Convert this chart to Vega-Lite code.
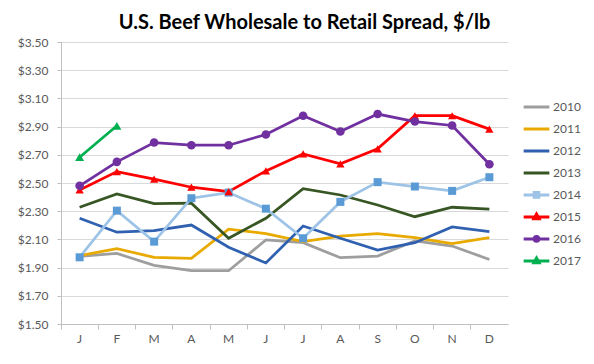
{
  "$schema": "https://vega.github.io/schema/vega-lite/v6.json",
  "width": 447,
  "height": 282,
  "autosize": {"type": "none"},
  "padding": {"left": 61, "top": 42, "right": 86, "bottom": 40},
  "background": "white",
  "title": {"text": "U.S. Beef Wholesale to Retail Spread, $/lb", "font": "Lato", "fontSize": 20, "fontWeight": "bold", "color": "#000000", "anchor": "middle", "dx": 20, "offset": 3},
  "data": {"values": [
    {"year": "2010", "m": 1, "v": 1.98}, {"year": "2010", "m": 2, "v": 2.0}, {"year": "2010", "m": 3, "v": 1.916}, {"year": "2010", "m": 4, "v": 1.878}, {"year": "2010", "m": 5, "v": 1.878}, {"year": "2010", "m": 6, "v": 2.096}, {"year": "2010", "m": 7, "v": 2.077}, {"year": "2010", "m": 8, "v": 1.97}, {"year": "2010", "m": 9, "v": 1.982}, {"year": "2010", "m": 10, "v": 2.089}, {"year": "2010", "m": 11, "v": 2.053}, {"year": "2010", "m": 12, "v": 1.958},
    {"year": "2011", "m": 1, "v": 1.985}, {"year": "2011", "m": 2, "v": 2.034}, {"year": "2011", "m": 3, "v": 1.973}, {"year": "2011", "m": 4, "v": 1.966}, {"year": "2011", "m": 5, "v": 2.172}, {"year": "2011", "m": 6, "v": 2.141}, {"year": "2011", "m": 7, "v": 2.084}, {"year": "2011", "m": 8, "v": 2.124}, {"year": "2011", "m": 9, "v": 2.141}, {"year": "2011", "m": 10, "v": 2.112}, {"year": "2011", "m": 11, "v": 2.07}, {"year": "2011", "m": 12, "v": 2.112},
    {"year": "2012", "m": 1, "v": 2.25}, {"year": "2012", "m": 2, "v": 2.151}, {"year": "2012", "m": 3, "v": 2.162}, {"year": "2012", "m": 4, "v": 2.202}, {"year": "2012", "m": 5, "v": 2.044}, {"year": "2012", "m": 6, "v": 1.933}, {"year": "2012", "m": 7, "v": 2.195}, {"year": "2012", "m": 8, "v": 2.108}, {"year": "2012", "m": 9, "v": 2.025}, {"year": "2012", "m": 10, "v": 2.077}, {"year": "2012", "m": 11, "v": 2.188}, {"year": "2012", "m": 12, "v": 2.155},
    {"year": "2013", "m": 1, "v": 2.328}, {"year": "2013", "m": 2, "v": 2.423}, {"year": "2013", "m": 3, "v": 2.354}, {"year": "2013", "m": 4, "v": 2.357}, {"year": "2013", "m": 5, "v": 2.108}, {"year": "2013", "m": 6, "v": 2.25}, {"year": "2013", "m": 7, "v": 2.46}, {"year": "2013", "m": 8, "v": 2.415}, {"year": "2013", "m": 9, "v": 2.344}, {"year": "2013", "m": 10, "v": 2.261}, {"year": "2013", "m": 11, "v": 2.328}, {"year": "2013", "m": 12, "v": 2.314},
    {"year": "2014", "m": 1, "v": 1.973}, {"year": "2014", "m": 2, "v": 2.304}, {"year": "2014", "m": 3, "v": 2.084}, {"year": "2014", "m": 4, "v": 2.392}, {"year": "2014", "m": 5, "v": 2.432}, {"year": "2014", "m": 6, "v": 2.318}, {"year": "2014", "m": 7, "v": 2.108}, {"year": "2014", "m": 8, "v": 2.366}, {"year": "2014", "m": 9, "v": 2.506}, {"year": "2014", "m": 10, "v": 2.475}, {"year": "2014", "m": 11, "v": 2.444}, {"year": "2014", "m": 12, "v": 2.541},
    {"year": "2015", "m": 1, "v": 2.451}, {"year": "2015", "m": 2, "v": 2.581}, {"year": "2015", "m": 3, "v": 2.527}, {"year": "2015", "m": 4, "v": 2.47}, {"year": "2015", "m": 5, "v": 2.439}, {"year": "2015", "m": 6, "v": 2.586}, {"year": "2015", "m": 7, "v": 2.706}, {"year": "2015", "m": 8, "v": 2.636}, {"year": "2015", "m": 9, "v": 2.742}, {"year": "2015", "m": 10, "v": 2.977}, {"year": "2015", "m": 11, "v": 2.977}, {"year": "2015", "m": 12, "v": 2.882},
    {"year": "2016", "m": 1, "v": 2.48}, {"year": "2016", "m": 2, "v": 2.65}, {"year": "2016", "m": 3, "v": 2.787}, {"year": "2016", "m": 4, "v": 2.768}, {"year": "2016", "m": 5, "v": 2.768}, {"year": "2016", "m": 6, "v": 2.844}, {"year": "2016", "m": 7, "v": 2.977}, {"year": "2016", "m": 8, "v": 2.865}, {"year": "2016", "m": 9, "v": 2.989}, {"year": "2016", "m": 10, "v": 2.936}, {"year": "2016", "m": 11, "v": 2.908}, {"year": "2016", "m": 12, "v": 2.633},
    {"year": "2017", "m": 1, "v": 2.683}, {"year": "2017", "m": 2, "v": 2.906}
  ]},
  "encoding": {
    "x": {"field": "m", "type": "ordinal", "title": null,
      "scale": {"type": "band", "paddingInner": 0, "paddingOuter": 0},
      "axis": {"bandPosition": 0, "labelExpr": "['J','F','M','A','M','J','J','A','S','O','N','D'][datum.value-1]", "labelAngle": 0, "labelFont": "Lato", "labelFontSize": 12, "labelColor": "#595959", "labelPadding": 4, "tickSize": 5, "tickColor": "#BFBFBF", "domainColor": "#BFBFBF", "grid": false}},
    "y": {"field": "v", "type": "quantitative", "title": null,
      "scale": {"domain": [1.5, 3.5], "nice": false, "zero": false},
      "axis": {"values": [1.5, 1.7, 1.9, 2.1, 2.3, 2.5, 2.7, 2.9, 3.1, 3.3, 3.5], "format": "$.2f", "labelFont": "Lato", "labelFontSize": 12, "labelColor": "#595959", "labelPadding": 9, "tickSize": 4, "tickColor": "#BFBFBF", "domainColor": "#BFBFBF", "gridColor": "#D9D9D9", "gridWidth": 1}}
  },
  "layer": [
    {
      "mark": {"type": "line", "strokeWidth": 2.75},
      "encoding": {
        "color": {"field": "year", "type": "nominal",
          "scale": {"domain": ["2010", "2011", "2012", "2013", "2014", "2015", "2016", "2017"], "range": ["#9E9E9E", "#E8AA00", "#3060B0", "#375623", "#9DC3E6", "#FF0000", "#7030A0", "#00B050"]},
          "legend": {"title": null, "orient": "none", "legendX": 461, "legendY": 54, "symbolSize": 660, "clipHeight": 21.8, "rowPadding": 0, "labelOffset": 2, "labelFont": "Lato", "labelFontSize": 12, "labelColor": "#595959",
            "encode": {"symbols": {"update": {
              "shape": {"signal": "datum.value==='2014'?'M-1,0H1M-0.18,-0.18H0.18V0.18H-0.18Z':(datum.value==='2015'||datum.value==='2017')?'M-1,0H1M0,-0.22L0.2,0.14H-0.2Z':datum.value==='2016'?'M-1,0H1M0.18,0A0.18,0.18,0,1,1,-0.18,0A0.18,0.18,0,1,1,0.18,0Z':'M-1,0H1'"},
              "fill": {"signal": "datum.value==='2014'?'#5B9BD5':scale('color',datum.value)"},
              "stroke": {"scale": "color", "field": "value"},
              "strokeWidth": {"value": 3},
              "opacity": {"value": 1},
              "fillOpacity": {"value": 1}
            }}}
          }}
      }
    },
    {
      "transform": [{"filter": "datum.year >= '2014'"}],
      "mark": {"type": "point", "filled": true, "opacity": 1, "size": 60},
      "encoding": {
        "shape": {"field": "year", "type": "nominal", "legend": null,
          "scale": {"domain": ["2014", "2015", "2016", "2017"], "range": ["square", "triangle-up", "circle", "triangle-up"]}},
        "fill": {"field": "year", "type": "nominal", "legend": null,
          "scale": {"domain": ["2014", "2015", "2016", "2017"], "range": ["#5B9BD5", "#FF0000", "#7030A0", "#00B050"]}},
        "size": {"field": "year", "type": "nominal", "legend": null,
          "scale": {"domain": ["2014", "2015", "2016", "2017"], "range": [64, 80, 75, 80]}}
      }
    }
  ],
  "config": {"view": {"stroke": null}}
}
